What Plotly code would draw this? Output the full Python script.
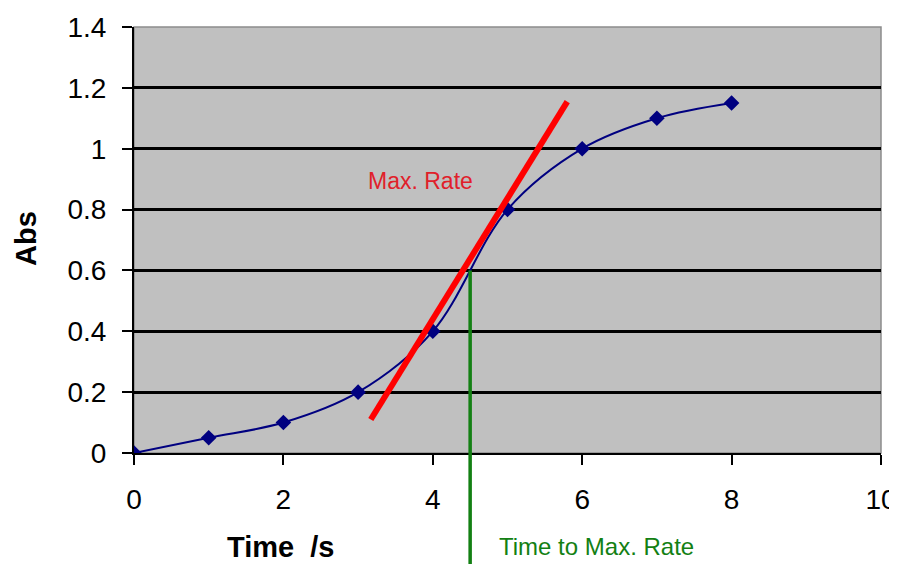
import plotly.graph_objects as go

# Messwerte (Absorption über Zeit)
time_s = [0, 1, 2, 3, 4, 5, 6, 7, 8]
absorbance = [0, 0.05, 0.1, 0.2, 0.4, 0.8, 1.0, 1.1, 1.15]

# Tangente an der Stelle der maximalen Rate
tangent_x = [3.17, 5.8]
tangent_y = [0.11, 1.155]

# Zeitpunkt der maximalen Rate
t_max_rate = 4.5
abs_max_rate = 0.6

x_ticks = [0, 2, 4, 6, 8, 10]
y_ticks = [0, 0.2, 0.4, 0.6, 0.8, 1, 1.2, 1.4]

fig = go.Figure()

fig.add_trace(go.Scatter(
    x=time_s, y=absorbance,
    mode="lines+markers",
    line=dict(color="#000080", width=2, shape="spline", smoothing=1),
    marker=dict(symbol="diamond", size=12, color="#000080"),
    showlegend=False))

fig.add_trace(go.Scatter(
    x=tangent_x, y=tangent_y,
    mode="lines",
    line=dict(color="#FF0000", width=6),
    showlegend=False))

# grüne Linie bis unter die Achse (Annotation, damit nicht abgeschnitten)
fig.add_annotation(
    x=t_max_rate, y=abs_max_rate,
    ax=t_max_rate, ay=-0.37,
    axref="x", ayref="y", xref="x", yref="y",
    text="", showarrow=True, arrowhead=0, arrowwidth=3.5,
    arrowcolor="#138013", standoff=0, startstandoff=0)

fig.add_annotation(
    x=3.84, y=0.893, xref="x", yref="y",
    text="Max. Rate", showarrow=False,
    font=dict(family="Liberation Sans", size=23, color="#E0202A"))

fig.add_annotation(
    x=(596 - 134) / 747, y=-(546 - 453) / 426, xref="paper", yref="paper",
    xanchor="center", yanchor="middle",
    text="Time to Max. Rate", showarrow=False,
    font=dict(family="Liberation Sans", size=24, color="#138013"))

# Achsentitel
fig.add_annotation(
    x=(280 - 134) / 747, y=-(547 - 453) / 426, xref="paper", yref="paper",
    xanchor="center", yanchor="middle",
    text="<b>Time  /s</b>", showarrow=False,
    font=dict(family="Liberation Sans", size=29, color="black"))
fig.add_annotation(
    x=-(134 - 26) / 747, y=(453 - 239) / 426, xref="paper", yref="paper",
    xanchor="center", yanchor="middle",
    text="<b>Abs</b>", showarrow=False, textangle=-90,
    font=dict(family="Liberation Sans", size=29, color="black"))

# grauer Rahmen oben/rechts
fig.add_shape(type="rect", xref="paper", yref="paper", x0=0, x1=1, y0=0, y1=1,
              line=dict(color="#8C8C8C", width=1.5), layer="below")

fig.update_xaxes(
    range=[0, 10], tickvals=x_ticks, showgrid=False, zeroline=False,
    showline=True, linecolor="black", linewidth=2,
    ticks="outside", ticklen=10, tickwidth=2, tickcolor="black",
    ticklabelstandoff=10,
    tickfont=dict(family="Liberation Sans", size=28, color="black"))
fig.update_yaxes(
    range=[0, 1.4], tickvals=y_ticks, showgrid=True, gridcolor="black",
    gridwidth=2.5, zeroline=False,
    showline=True, linecolor="black", linewidth=2,
    ticks="outside", ticklen=10, tickwidth=2, tickcolor="black",
    ticklabelstandoff=10,
    tickfont=dict(family="Liberation Sans", size=28, color="black"))

# die Seite hat 8px Rand, daher Größe und Ränder so, dass nichts überläuft
fig.update_layout(
    width=889, height=559,
    margin=dict(l=126, r=16, t=19, b=114, autoexpand=False),
    plot_bgcolor="#C0C0C0", paper_bgcolor="white")

fig.write_html("out.html")
